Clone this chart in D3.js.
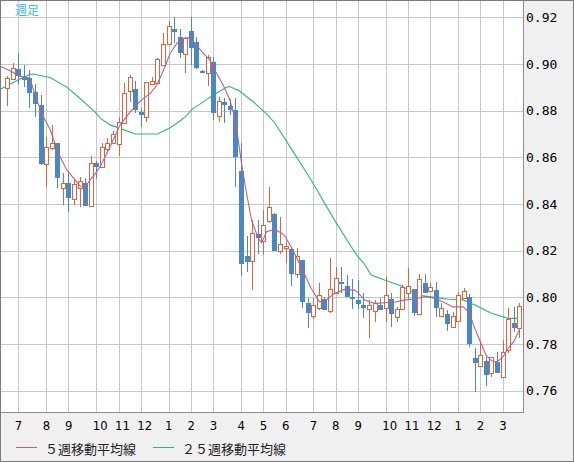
<!DOCTYPE html>
<html><head><meta charset="utf-8">
<script src="https://cdn.jsdelivr.net/npm/d3@7"></script>
<style>
html,body{margin:0;padding:0;background:#f0f0f0;}
svg{display:block;}
</style></head><body>
<svg id="c" width="574" height="462"></svg>
<script>
// Weekly candles (index 0..92)
const opens  = [.8896,.8934,.8978,.8946,.8940,.8880,.8824,.8571,.8639,.8660,.8467,.8489,.8420,.8467,.8489,.8393,.8574,.8560,.8634,.8663,.8656,.8748,.8884,.8893,.8795,.8771,.8914,.8917,.8996,.9086,.9149,.9114,.9043,.9141,.9093,.8970,.8960,.9010,.8777,.8838,.8820,.8803,.8543,.8177,.8157,.8270,.8243,.8328,.8357,.8199,.8210,.8206,.8099,.8160,.7974,.7921,.7953,.7993,.7942,.8020,.8066,.8049,.8001,.7989,.7967,.7950,.7942,.7967,.7953,.7992,.7915,.7949,.8020,.8034,.7929,.8060,.8028,.8031,.7920,.7927,.7872,.7900,.7996,.8003,.7740,.7707,.7728,.7675,.7723,.7660,.7774,.7891,.7867];
const highs  = [.8948,.9005,.9048,.8996,.8974,.8914,.8867,.8688,.8739,.8661,.8533,.8534,.8503,.8517,.8511,.8606,.8584,.8661,.8684,.8714,.8771,.8917,.8953,.8928,.8813,.8924,.8944,.9024,.9134,.9184,.9200,.9149,.9116,.9200,.9116,.8974,.9038,.9031,.8857,.8854,.8849,.8853,.8660,.8263,.8331,.8331,.8374,.8474,.8360,.8346,.8243,.8217,.8210,.8160,.7996,.7996,.8060,.8003,.8167,.8131,.8129,.8096,.8077,.8074,.8017,.7989,.7989,.7996,.8088,.8017,.7960,.8053,.8124,.8034,.8100,.8100,.8060,.8067,.7977,.7946,.7937,.8024,.8039,.8014,.7782,.7814,.7743,.7744,.7767,.7817,.7953,.7957,.7977];
const lows   = [.8820,.8931,.8914,.8901,.8813,.8773,.8567,.8472,.8631,.8467,.8396,.8367,.8396,.8388,.8391,.8391,.8507,.8554,.8627,.8661,.8607,.8747,.8838,.8791,.8731,.8753,.8910,.8914,.8991,.9081,.9091,.9024,.8960,.8996,.8977,.8961,.8906,.8760,.8753,.8748,.8781,.8472,.8093,.8110,.8031,.8186,.8181,.8320,.8199,.8186,.8148,.8049,.8082,.7953,.7867,.7906,.7946,.7946,.7934,.8019,.8020,.8001,.7949,.7949,.7910,.7826,.7896,.7946,.7896,.7872,.7896,.7946,.7989,.7921,.7924,.8022,.8024,.7917,.7917,.7856,.7867,.7896,.7993,.7786,.7596,.7706,.7620,.7657,.7675,.7659,.7760,.7853,.7825];
const closes = [.8939,.8981,.8953,.8934,.8881,.8832,.8574,.8646,.8660,.8517,.8491,.8429,.8486,.8500,.8396,.8577,.8563,.8646,.8660,.8700,.8753,.8877,.8943,.8806,.8784,.8924,.8928,.9020,.9086,.9163,.9143,.9053,.9110,.9074,.8988,.8966,.9031,.8795,.8843,.8827,.8806,.8607,.8146,.8157,.8274,.8260,.8310,.8388,.8203,.8229,.8220,.8106,.8177,.7986,.7939,.7967,.8010,.7949,.8034,.8082,.8061,.8007,.7997,.7977,.7960,.7967,.7974,.7949,.8010,.7932,.7949,.8043,.8049,.7936,.8077,.8024,.8043,.7957,.7953,.7891,.7920,.8010,.8028,.7806,.7724,.7753,.7672,.7743,.7681,.7766,.7906,.7874,.7963];

// 5-week moving average (week position, value)
const ma5Pos = [-1.3,0.5,2.3,3.5,4.1,5.3,6.5,7.7,9.2,10.7,13.1,14,14.9,15.8,16.7,18.5,20.3,22.1,24,25.7,26.9,28.1,29.3,30.5,31.6,32.8,34,35.2,36.4,37.6,38.8,40,41,42.1,43,43.9,45.1,45.7,46.6,48.1,49.8,51,52.8,54.6,56.1,57.3,58.8,60.6,62.4,63,64.2,66,67.8,69.6,71.4,72.9,75,76.8,78.6,80.1,81.9,83,84,85,86,87,88,89,90,91,92];
const ma5Val = [.8991,.8971,.8947,.8943,.8938,.8846,.8774,.8720,.8617,.8546,.8477,.8474,.8503,.8529,.8560,.8646,.8739,.8795,.8843,.8874,.8910,.8974,.9047,.9089,.9109,.9113,.9081,.9046,.9017,.8960,.8910,.8846,.8760,.8574,.8446,.8331,.8253,.8234,.8281,.8292,.8267,.8217,.8131,.8039,.7981,.7989,.8017,.8034,.8031,.8020,.7989,.7974,.7977,.7979,.7989,.7992,.8003,.7996,.7977,.7959,.7960,.7934,.7867,.7810,.7753,.7728,.7724,.7743,.7782,.7810,.7860];

// 25-week moving average
const ma25Pos = [-1.3,2.3,4.1,4.6,7.7,10.7,13.1,15.8,16.7,18.5,20.3,23,27,29.2,30.5,32,33.4,34.6,36.4,37,39.4,40,40.9,41.5,43.6,44.2,46.6,48.1,51.2,54.6,58.8,61.8,63,64,65.4,67.8,70.8,73.8,76.8,79.2,81.9,84,87,90,92];
const ma25Val = [.8891,.8936,.8956,.8957,.8942,.8901,.8852,.8794,.8768,.8739,.8724,.8700,.8700,.8726,.8746,.8773,.8810,.8828,.8857,.8867,.8900,.8903,.8893,.8888,.8849,.8838,.8786,.8746,.8631,.8503,.8331,.8217,.8174,.8148,.8096,.8074,.8049,.8010,.8000,.7992,.7989,.7967,.7932,.7910,.7910];

// Axis ticks
const monthIdx    = [2,7,11,16,20,24,29,33,37,42,46,50,55,59,63,68,72,76,81,85,89];
const monthLabels = ["7","8","9","10","11","12","1","2","3","4","5","6","7","8","9","10","11","12","1","2","3"];
const priceTicks  = [0.76,0.78,0.80,0.82,0.84,0.86,0.88,0.90,0.92];
const legendNames = ["５週移動平均線","２５週移動平均線"];
const titleText   = "週足";

const W = 574, H = 462;
const PR = 523, PB = 412;
const C_UP = "#dc643f", C_DN = "#4a88c2", C_MA5 = "#b5628f", C_MA25 = "#2fb57b";

const svg = d3.select("#c");
svg.append("rect").attr("width", W).attr("height", H).attr("fill", "#f0f0f0");
svg.append("rect").attr("x", 1).attr("y", 1).attr("width", PR - 1).attr("height", PB - 1).attr("fill", "#fff");

const x = d3.scaleLinear().domain([-1.29, 92.66]).range([0, PR]);
const y = d3.scaleLinear().domain([0.76, 0.92]).range([390.7, 17.3]);
const px = v => Math.round(v) + 0.5;

// grid
const grid = svg.append("g").attr("shape-rendering", "crispEdges").attr("stroke", "#c8c8c8").attr("stroke-width", 1);
priceTicks.forEach(v => grid.append("line").attr("x1", 1).attr("x2", PR).attr("y1", px(y(v))).attr("y2", px(y(v))));
monthIdx.forEach(i => grid.append("line").attr("y1", 1).attr("y2", PB).attr("x1", px(x(i))).attr("x2", px(x(i))));

// moving averages
svg.append("clipPath").attr("id", "pc").append("rect").attr("x", 1).attr("y", 1).attr("width", PR - 1).attr("height", PB - 1);
const line = d3.line().x(d => x(d[0])).y(d => y(d[1]));
const g = svg.append("g").attr("clip-path", "url(#pc)");
g.append("path").datum(ma25Pos.map((p, i) => [p, ma25Val[i]])).attr("d", line).attr("fill", "none").attr("stroke", C_MA25).attr("stroke-width", 1.1);

// candles
const cg = g.append("g").attr("shape-rendering", "crispEdges");
opens.forEach((o, i) => {
  const c = closes[i], up = c >= o, col = up ? C_UP : C_DN;
  const cx = Math.round(x(i));
  cg.append("line").attr("x1", cx + 0.5).attr("x2", cx + 0.5).attr("y1", y(highs[i])).attr("y2", y(lows[i])).attr("stroke", col);
  const top = Math.round(y(Math.max(o, c))), bot = Math.round(y(Math.min(o, c)));
  if (up) {
    cg.append("rect").attr("x", cx - 1.5).attr("y", top + 0.5).attr("width", 4).attr("height", Math.max(1, bot - top))
      .attr("fill", "#fff").attr("stroke", col);
  } else {
    cg.append("rect").attr("x", cx - 2).attr("y", top).attr("width", 5).attr("height", Math.max(2, bot - top + 1)).attr("fill", col);
  }
});
g.append("path").datum(ma5Pos.map((p, i) => [p, ma5Val[i]])).attr("d", line).attr("fill", "none").attr("stroke", C_MA5).attr("stroke-width", 1.1);

// frames
const fr = svg.append("g").attr("shape-rendering", "crispEdges").attr("fill", "none");
fr.append("path").attr("d", `M1,${PB + 0.5}H${PR + 0.5}V1`).attr("stroke", "#8c8c8c");
fr.append("rect").attr("x", 0.5).attr("y", 0.5).attr("width", W - 1).attr("height", H - 1).attr("stroke", "#7a7a7a");

// axes
const yAxis = svg.append("g").attr("transform", `translate(${PR},0)`)
  .call(d3.axisRight(y).tickValues(priceTicks).tickFormat(d3.format(".2f")).tickSize(0).tickPadding(3));
yAxis.select(".domain").remove();
yAxis.selectAll("text").attr("font-family", "'DejaVu Sans Mono', monospace").attr("font-size", "13px").attr("fill", "#000");

const xAxis = svg.append("g").attr("transform", `translate(0,${PB})`)
  .call(d3.axisBottom(x).tickValues(monthIdx).tickFormat((d, i) => monthLabels[i]).tickSize(0));
xAxis.select(".domain").remove();
xAxis.selectAll("text").attr("text-anchor", "start").attr("dx", -4).attr("y", 18).attr("dy", 0)
  .attr("font-family", "'DejaVu Sans Condensed', 'DejaVu Sans', sans-serif").attr("font-size", "13px").attr("fill", "#000");

// title
svg.append("text").attr("x", 15).attr("y", 15).text(titleText)
  .attr("font-family", "'Noto Sans CJK JP', sans-serif").attr("font-size", "12px").attr("fill", "#3cb6e8");

// legend
const legCols = [C_MA5, C_MA25], legX = [16, 153];
legendNames.forEach((n, i) => {
  svg.append("line").attr("x1", legX[i]).attr("x2", legX[i] + 21).attr("y1", 447.5).attr("y2", 447.5).attr("stroke", legCols[i]).attr("shape-rendering", "crispEdges");
  svg.append("text").attr("x", legX[i] + 29).attr("y", 448).attr("dominant-baseline", "central").text(n)
    .attr("font-family", "'Noto Sans CJK JP', sans-serif").attr("font-size", "13px").attr("fill", "#222");
});
</script>
</body></html>
